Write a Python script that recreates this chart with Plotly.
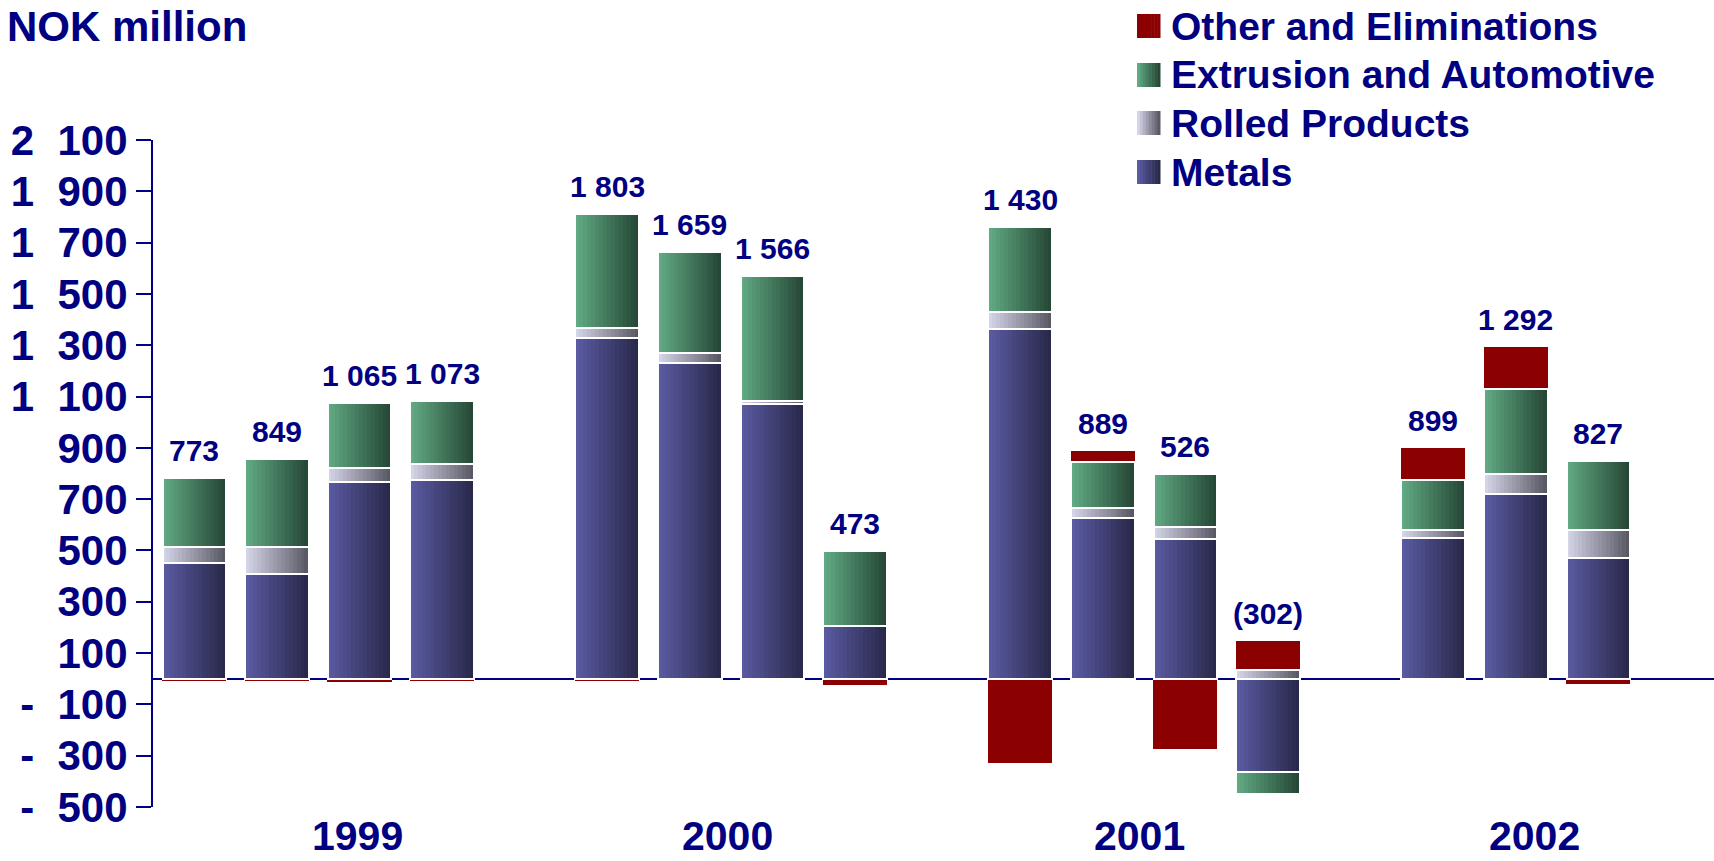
import plotly.graph_objects as go

# Quarterly EBITDA by business area, NOK million
years = [1999] * 4 + [2000] * 4 + [2001] * 4 + [2002] * 3
quarters = [1, 2, 3, 4] * 3 + [1, 2, 3]
metals = [453, 408, 765, 775, 1328, 1232, 1069, 207, 1362, 625, 545, -365, 547, 720, 470]
rolled = [59, 104, 55, 62, 38, 36, 15, 0, 68, 41, 47, 33, 33, 78, 110]
extrusion = [269, 346, 256, 246, 445, 394, 486, 289, 330, 177, 207, -85, 196, 331, 267]
other = [-8, -9, -11, -10, -8, -3, -4, -23, -330, 46, -273, 115, 123, 163, -20]
year_labels = ["1999", "2000", "2001", "2002"]
y_ticks = [-500, -300, -100, 100, 300, 500, 700, 900, 1100, 1300, 1500, 1700, 1900, 2100]

NAVY = "#000080"
BOLD = "Liberation Sans, Arial, sans-serif"

W, H = 1714, 861
M_L, M_R, M_T, M_B = 153, 0, 140, 54


def px_x(p):
    return (p - M_L) / (W - M_L - M_R)


def px_y(p):
    return (H - M_B - p) / (H - M_T - M_B)


def hex_rgb(c):
    c = c.lstrip("#")
    return tuple(int(c[i:i + 2], 16) for i in (0, 2, 4))


def mix(c0, c1, t):
    a, b = hex_rgb(c0), hex_rgb(c1)
    return "rgb(%d,%d,%d)" % tuple(round(a[k] + (b[k] - a[k]) * t) for k in range(3))


def fmt(v):
    s = f"{abs(v):,}".replace(",", " ")
    return f"({s})" if v < 0 else s


def tick_text(v):
    gap = "\u00a0\u00a0"
    s = f"{abs(v):,}".replace(",", gap)
    return f"-{gap}{s}" if v < 0 else s


series = [
    ("Metals", metals, ("#5a5aa2", "#29294b")),
    ("Rolled Products", rolled, ("#d4d4e8", "#5a5a66")),
    ("Extrusion and Automotive", extrusion, ("#60a983", "#264836")),
    ("Other and Eliminations", other, ("#8b0000", "#8b0000")),
]

# one slot per quarter, with an empty slot between years
slot = [(y - 1999) * 5 + (q - 1) for y, q in zip(years, quarters)]
bar_w = 0.77
N = 16
sw = bar_w / N

fig = go.Figure()

# each stacked segment is drawn as vertical strips to give a left-to-right shading
for name, vals, (c0, c1) in series:
    for j in range(N):
        dx = -bar_w / 2 + (j + 0.5) * sw
        fig.add_bar(
            x=[s + dx for s in slot], y=vals, width=sw * 1.12,
            marker=dict(color=mix(c0, c1, j / (N - 1)), line_width=0),
            hoverinfo="skip", showlegend=False, legendgroup=name,
        )

# white separators between the stacked segments
for name, vals, _ in series[:3]:
    fig.add_bar(
        x=slot, y=vals, width=bar_w, name=name,
        marker=dict(color="rgba(0,0,0,0)", line=dict(color="white", width=2)),
        showlegend=False, legendgroup=name,
        hovertemplate=name + ": %{y}<extra></extra>",
    )

# totals above each bar
for i, s in enumerate(slot):
    vals = [metals[i], rolled[i], extrusion[i], other[i]]
    total = sum(vals)
    top = sum(v for v in vals if v > 0)
    fig.add_annotation(
        x=s, y=top, yanchor="bottom", yshift=9, showarrow=False,
        text=fmt(total), font=dict(family=BOLD, size=30, color=NAVY, weight="bold"),
    )

# year captions
year_x = [1.97, 6.45, 11.45, 16.23]
for yl, xx in zip(year_labels, year_x):
    fig.add_annotation(
        x=xx, xref="x", y=px_y(836), yref="paper", yanchor="middle",
        showarrow=False, text=yl,
        font=dict(family=BOLD, size=41, color=NAVY, weight="bold"),
    )

# unit caption
fig.add_annotation(
    x=px_x(5), xref="paper", y=px_y(26), yref="paper", xanchor="left", yanchor="middle",
    showarrow=False, text="NOK million",
    font=dict(family=BOLD, size=42, color=NAVY, weight="bold"),
)

# legend with shaded swatches
legend_rows = [26, 75, 123, 172]
shapes = []
for (name, _, (c0, c1)), yc in zip(reversed(series), legend_rows):
    n = 8
    x0, x1 = 1137, 1160
    for j in range(n):
        shapes.append(dict(
            type="rect", xref="paper", yref="paper", layer="above",
            x0=px_x(x0 + (x1 - x0) * j / n), x1=px_x(x0 + (x1 - x0) * (j + 1) / n + 0.5),
            y0=px_y(yc + 12), y1=px_y(yc - 12),
            fillcolor=mix(c0, c1, j / (n - 1)), line_width=0,
        ))
    fig.add_annotation(
        x=px_x(1169), xref="paper", y=px_y(yc), yref="paper",
        xanchor="left", yanchor="middle", showarrow=False, text=name,
        font=dict(family=BOLD, size=39, color=NAVY, weight="bold"),
    )

fig.update_layout(
    width=W, height=H,
    margin=dict(l=M_L, r=M_R, t=M_T, b=M_B),
    barmode="relative", bargap=0,
    plot_bgcolor="white", paper_bgcolor="white",
    showlegend=False, shapes=shapes,
)
fig.update_xaxes(
    range=[-0.5, 18.4], showgrid=False, zeroline=False, showline=False,
    showticklabels=False, ticks="",
)
fig.update_yaxes(
    range=[-500, 2100], tickvals=y_ticks, ticktext=[tick_text(v) for v in y_ticks],
    showgrid=False, showline=True, linecolor=NAVY, linewidth=2,
    ticks="outside", ticklen=15, tickwidth=2, tickcolor=NAVY,
    zeroline=True, zerolinecolor=NAVY, zerolinewidth=2,
    tickfont=dict(family=BOLD, size=42, color=NAVY, weight="bold"),
    layer="above traces",
)

fig.write_html("out.html")
